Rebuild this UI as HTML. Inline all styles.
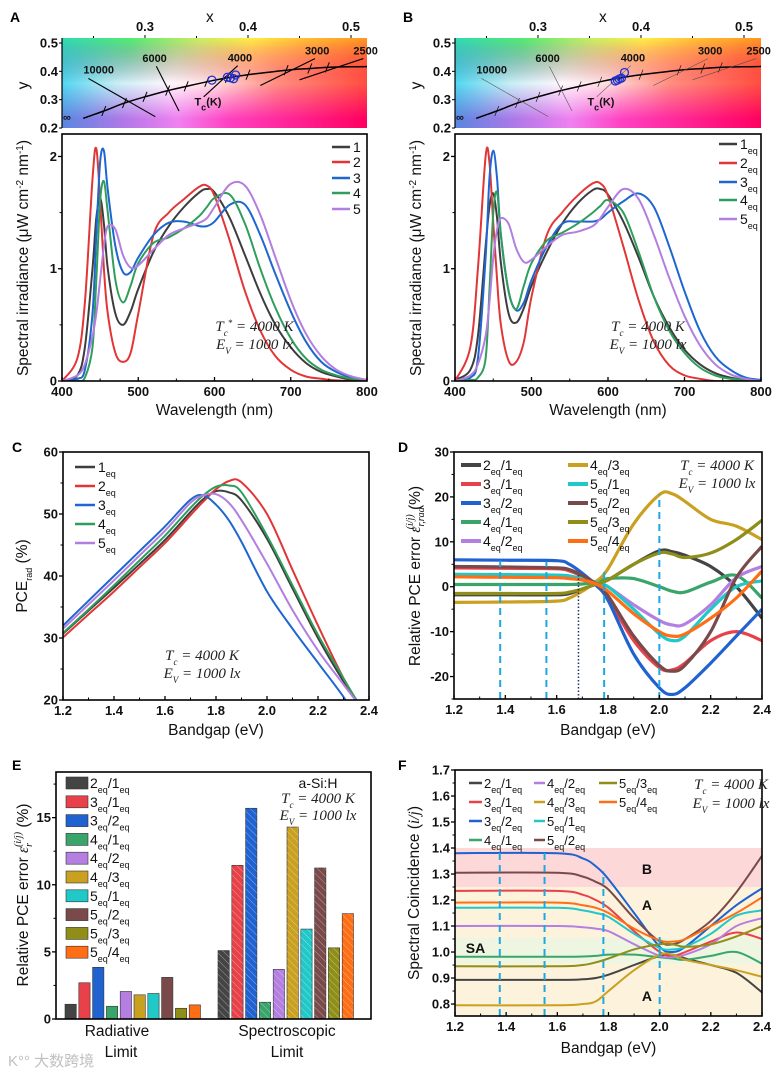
<!DOCTYPE html>
<html><head><meta charset="utf-8">
<style>
html,body{margin:0;padding:0;background:#fff;}
svg{display:block;font-family:"Liberation Sans",Arial,sans-serif;}
.tk{font-size:13px;font-weight:bold;fill:#111;}
.ttl{font-size:15.5px;fill:#111;}
.lg{font-size:14px;fill:#111;}
.ann{font-family:"Liberation Serif",serif;font-style:italic;font-size:15px;fill:#222;}
.pl{font-size:14px;font-weight:bold;fill:#000;}
.ch{font-size:11px;font-weight:bold;fill:#111;}
</style></head>
<body>
<svg id="fig" width="782" height="1072" viewBox="0 0 782 1072" xmlns="http://www.w3.org/2000/svg">
<defs>
<linearGradient id="gTop" x1="0" x2="1" y1="0" y2="0">
<stop offset="0" stop-color="#30dcb0"/><stop offset="0.22" stop-color="#50ec70"/><stop offset="0.45" stop-color="#c8f060"/><stop offset="0.62" stop-color="#fff040"/><stop offset="0.8" stop-color="#ffc030"/><stop offset="1" stop-color="#ff9820"/></linearGradient>
<linearGradient id="gMid" x1="0" x2="1" y1="0" y2="0">
<stop offset="0" stop-color="#50d8f0"/><stop offset="0.18" stop-color="#c8f0f4"/><stop offset="0.35" stop-color="#fff8fc"/><stop offset="0.5" stop-color="#ffe0e0"/><stop offset="0.7" stop-color="#ff9080"/><stop offset="1" stop-color="#ff5040"/></linearGradient>
<linearGradient id="gBot" x1="0" x2="1" y1="0" y2="0">
<stop offset="0" stop-color="#5a86e0"/><stop offset="0.2" stop-color="#b078e8"/><stop offset="0.38" stop-color="#f080f0"/><stop offset="0.55" stop-color="#ff40c0"/><stop offset="0.78" stop-color="#ff2090"/><stop offset="1" stop-color="#ff0060"/></linearGradient>
<linearGradient id="mT" x1="0" x2="0" y1="0" y2="1"><stop offset="0" stop-color="#fff"/><stop offset="0.5" stop-color="#000"/></linearGradient>
<linearGradient id="mM" x1="0" x2="0" y1="0" y2="1"><stop offset="0.1" stop-color="#000"/><stop offset="0.5" stop-color="#fff"/><stop offset="0.9" stop-color="#000"/></linearGradient>
<mask id="maskT" maskContentUnits="objectBoundingBox"><rect width="1" height="1" fill="url(#mT)"/></mask>
<mask id="maskM" maskContentUnits="objectBoundingBox"><rect width="1" height="1" fill="url(#mM)"/></mask>
<pattern id="hatch" patternUnits="userSpaceOnUse" width="5" height="5" patternTransform="rotate(-45)"><line x1="0" y1="0" x2="0" y2="5" stroke="#fff" stroke-opacity="0.45" stroke-width="1"/></pattern>
</defs>
</svg>
<script>
// ---------- DATA ----------
const wl = [400,420,430,440,445,450,455,460,470,480,490,500,520,540,560,580,590,600,620,640,660,680,700,720,740,760,780,800];
const specA1 = [0,0.05,0.3,1.0,1.45,1.63,1.4,1.0,0.6,0.5,0.62,0.82,1.15,1.38,1.55,1.68,1.71,1.68,1.45,1.12,0.78,0.5,0.3,0.16,0.08,0.04,0.01,0];
const specA2 = [0,0.2,0.7,1.8,2.07,1.6,1.0,0.6,0.25,0.17,0.25,0.6,1.3,1.5,1.62,1.73,1.74,1.65,1.25,0.8,0.45,0.22,0.1,0.04,0.02,0.005,0,0];
const specA3 = [0,0.02,0.1,0.6,1.3,1.95,2.05,1.7,1.2,0.97,0.97,1.1,1.3,1.41,1.42,1.38,1.38,1.42,1.57,1.57,1.3,0.95,0.62,0.35,0.17,0.08,0.03,0.01];
const specA4 = [0,0,0.03,0.3,0.9,1.6,1.78,1.5,0.9,0.7,0.85,1.05,1.23,1.28,1.36,1.47,1.55,1.63,1.66,1.4,1.0,0.65,0.38,0.2,0.1,0.05,0.02,0];
const specA5 = [0,0.05,0.15,0.4,0.6,0.9,1.2,1.38,1.35,1.12,1.01,1.03,1.17,1.3,1.36,1.41,1.45,1.55,1.75,1.74,1.48,1.1,0.72,0.42,0.22,0.1,0.04,0.01];
const specB1 = [0.01,0.1,0.4,1.2,1.55,1.67,1.45,1.05,0.6,0.52,0.65,0.85,1.15,1.4,1.58,1.7,1.71,1.66,1.42,1.1,0.75,0.48,0.28,0.15,0.07,0.03,0.01,0];
const specB2 = [0,0.3,1.0,2.0,1.95,1.4,0.9,0.5,0.18,0.17,0.35,0.75,1.3,1.5,1.65,1.76,1.76,1.65,1.2,0.72,0.35,0.14,0.05,0.02,0,0,0,0];
const specB3 = [0,0.03,0.2,1.1,1.8,2.05,1.8,1.3,0.8,0.63,0.7,0.9,1.2,1.4,1.42,1.42,1.44,1.5,1.6,1.67,1.55,1.2,0.8,0.45,0.22,0.1,0.03,0.01];
const specB4 = [0,0.01,0.03,0.2,0.8,1.5,1.68,1.3,0.8,0.64,0.85,1.05,1.25,1.32,1.4,1.5,1.56,1.61,1.5,1.15,0.75,0.45,0.25,0.12,0.05,0.02,0.01,0];
const specB5 = [0,0.05,0.15,0.4,0.7,1.1,1.35,1.45,1.4,1.18,1.06,1.08,1.2,1.3,1.33,1.38,1.45,1.55,1.71,1.62,1.3,0.92,0.58,0.32,0.15,0.06,0.02,0];
const specLabelsA = ["1","2","3","4","5"];
const wlTicks = [400,500,600,700,800];
const irrTicks = [0,1,2];

const locusX = [0.24,0.26,0.28,0.30,0.322,0.34,0.36,0.38,0.40,0.437,0.46,0.477,0.50,0.52];
const locusY = [0.234,0.26,0.288,0.31,0.332,0.347,0.363,0.377,0.388,0.404,0.41,0.414,0.416,0.417];
const cctLabels = ["10000","6000","4000","3000","2500"];
const cctLineX1 = [0.245,0.311,0.39,0.465,0.512];
const cctLineY1 = [0.375,0.418,0.42,0.445,0.445];
const cctLineX2 = [0.31,0.333,0.357,0.412,0.45];
const cctLineY2 = [0.24,0.26,0.31,0.35,0.37];
const ptsAx = [0.365,0.38,0.383,0.386,0.388];
const ptsAy = [0.369,0.379,0.377,0.374,0.387];
const ptsBx = [0.375,0.377,0.379,0.381,0.384];
const ptsBy = [0.366,0.369,0.373,0.376,0.396];

const bg = [1.2,1.3,1.4,1.5,1.6,1.7,1.75,1.8,1.85,1.9,2.0,2.1,2.2,2.3,2.35,2.4];
const pce1 = [30.7,34.4,38.1,41.9,45.8,50.3,52.4,53.7,53.5,52.2,46,38,30,23,20,17];
const pce2 = [30.1,33.8,37.5,41.4,45.3,49.8,52,54,55.3,55.1,50,41,32,23.5,20,16.5];
const pce3 = [32,36,40,44,48,52.3,53,51.5,49,45.5,37.5,31.5,26,20.5,17,14];
const pce4 = [30.8,34.6,38.5,42.5,46.5,51,53,54.4,54.6,53.5,46.5,38.5,30.5,23.5,20,16.5];
const pce5 = [31.5,35.4,39.3,43.3,47.3,51.8,53,53.2,51.8,49,42,34.5,28,22.5,19.8,17];
const eqLabels = ["1","2","3","4","5"];
const bgTicks = [1.2,1.4,1.6,1.8,2.0,2.2,2.4];
const pceTicks = [20,30,40,50,60];

const bgD = [1.2,1.4,1.6,1.65,1.7,1.75,1.8,1.9,2.0,2.05,2.1,2.2,2.3,2.4];
const err21 = [-1.8,-1.8,-1.8,-1.5,-0.5,0.5,1.5,5,8,7.8,7,4.5,0,-7];
const err31 = [4.2,4.1,4,3.5,2.3,0.5,-2.5,-12,-18,-18.5,-17,-12,-10,-12];
const err32 = [6,5.9,5.8,5,3,0.5,-3,-15,-22.5,-24,-22.5,-17,-11,-5];
const err41 = [0.5,0.5,0.5,0.5,0.6,1,1.8,1.8,0,-1,-1.2,1,2.5,-2.5];
const err42 = [2.5,2.4,2.3,2.2,1.8,1,0,-4,-7.5,-8.5,-8.3,-4,2,4.5];
const err43 = [-3.5,-3.4,-3.2,-2.5,-1,1,4,14,20.5,20.7,19,15,13.5,10.5];
const err51 = [2.8,2.7,2.6,2.4,1.8,1,0,-5,-10.5,-12,-11,-5,0,1.3];
const err52 = [4.5,4.4,4.2,3.8,2.5,0.8,-2,-11,-17.5,-18.8,-17.5,-10,2,9];
const err53 = [-1.5,-1.5,-1.5,-1.2,-0.5,0.5,1.5,5,7.5,7.3,6.5,7.5,10.5,14.8];
const err54 = [2.2,2.1,2,1.8,1.5,0.7,-1,-6,-10,-11,-10.5,-7,-2.5,3.5];
const ratioLabels = ["2/1","3/1","3/2","4/1","4/2","4/3","5/1","5/2","5/3","5/4"];
const errTicks = [-20,-10,0,10,20,30];
const dashX = [1.38,1.56,1.785,2.0];
const dashTopD = [5.8,5.6,3.3,20.6];

const radVals = [1.1,2.7,3.85,0.95,2.05,1.8,1.9,3.1,0.8,1.05];
const specVals = [5.1,11.45,15.7,1.25,3.7,14.3,6.7,11.25,5.3,7.85];
const groupLabels = ["Radiative","Spectroscopic"];
const eTicks = [0,5,10,15];

const bgF = [1.2,1.6,1.7,1.75,1.8,1.9,2.0,2.05,2.1,2.2,2.3,2.4];
const sc21 = [0.893,0.893,0.895,0.9,0.913,0.95,0.985,0.99,0.975,0.95,0.92,0.845];
const sc31 = [1.235,1.235,1.22,1.2,1.17,1.08,1.0,0.985,1.0,1.04,1.075,1.05];
const sc32 = [1.38,1.38,1.36,1.33,1.28,1.15,1.02,1.0,1.02,1.1,1.18,1.245];
const sc41 = [0.982,0.982,0.983,0.985,0.99,0.99,0.98,0.975,0.97,0.985,1.0,0.955];
const sc42 = [1.10,1.10,1.095,1.09,1.08,1.03,0.985,0.98,0.99,1.03,1.1,1.13];
const sc43 = [0.795,0.795,0.8,0.81,0.85,0.93,0.99,0.99,0.97,0.95,0.93,0.905];
const sc51 = [1.17,1.17,1.16,1.15,1.135,1.07,1.015,1.01,1.02,1.07,1.14,1.16];
const sc52 = [1.305,1.305,1.29,1.27,1.24,1.13,1.04,1.03,1.05,1.12,1.23,1.37];
const sc53 = [0.945,0.945,0.95,0.96,0.975,1.01,1.03,1.03,1.02,1.03,1.06,1.10];
const sc54 = [1.19,1.19,1.18,1.17,1.15,1.09,1.045,1.04,1.05,1.1,1.15,1.21];
const scTicks = [0.8,0.9,1.0,1.1,1.2,1.3,1.4,1.5,1.6,1.7];
const dashTopF = [1.4,1.4,1.31,1.06];

// ---------- HELPERS ----------
const NS="http://www.w3.org/2000/svg";
const fig=document.getElementById('fig');
function mk(tag,attrs,parent){const e=document.createElementNS(NS,tag);for(const k in attrs)e.setAttribute(k,attrs[k]);(parent||fig).appendChild(e);return e;}
function lin(d0,d1,r0,r1){return v=>r0+(v-d0)*(r1-r0)/(d1-d0);}
function smooth(pts){let d=`M${pts[0][0].toFixed(1)},${pts[0][1].toFixed(1)}`;for(let i=0;i<pts.length-1;i++){const p0=pts[i-1]||pts[i],p1=pts[i],p2=pts[i+1],p3=pts[i+2]||p2;const c1x=p1[0]+(p2[0]-p0[0])/6,c1y=p1[1]+(p2[1]-p0[1])/6,c2x=p2[0]-(p3[0]-p1[0])/6,c2y=p2[1]-(p3[1]-p1[1])/6;d+=`C${c1x.toFixed(1)},${c1y.toFixed(1)} ${c2x.toFixed(1)},${c2y.toFixed(1)} ${p2[0].toFixed(1)},${p2[1].toFixed(1)}`;}return d;}
function txt(x,y,s,cls,parent,anchor){const t=mk('text',{x:x,y:y,class:cls,'text-anchor':anchor||'start'},parent);t.innerHTML=s;return t;}
const sub=(s)=>`<tspan baseline-shift="sub" font-size="9">${s}</tspan>`;
const eqR=(r)=>{const [a,b]=r.split('/');return a+sub('eq')+'/'+b+sub('eq');};
let clipN=0;
function frame(g,x0,y0,x1,y1){const r=mk('rect',{x:x0,y:y0,width:x1-x0,height:y1-y0,fill:'none',stroke:'#000','stroke-width':1.6},g);}
function clip(x0,y0,x1,y1){clipN++;const c=mk('clipPath',{id:'cl'+clipN},fig);mk('rect',{x:x0,y:y0,width:x1-x0,height:y1-y0},c);return 'url(#cl'+clipN+')';}
function xAxis(g,ticks,sx,yb,fmt,minor){ticks.forEach(t=>{const x=sx(t);mk('line',{x1:x,x2:x,y1:yb,y2:yb-4,stroke:'#000','stroke-width':1.3},g);const l=txt(x,yb+15,fmt(t),'tk',g,'middle');});(minor||[]).forEach(t=>{const x=sx(t);mk('line',{x1:x,x2:x,y1:yb,y2:yb-2.5,stroke:'#000','stroke-width':1},g);});}
function yAxis(g,ticks,sy,xl,fmt,minor){ticks.forEach(t=>{const y=sy(t);mk('line',{x1:xl-4,x2:xl,y1:y,y2:y,stroke:'#000','stroke-width':1.3},g);const l=txt(xl-5,y+4.5,fmt(t),'tk',g,'end');});(minor||[]).forEach(t=>{const y=sy(t);mk('line',{x1:xl-2.5,x2:xl,y1:y,y2:y,stroke:'#000','stroke-width':1},g);});}
function mid(a){const r=[];for(let i=0;i<a.length-1;i++)r.push((a[i]+a[i+1])/2);return r;}

const specCols=['#3d3d3d','#e23636','#1e66d0','#2f9e5c','#b27ee0'];
const ratioCols=['#444444','#e8414a','#1f62d0','#3aa56a','#b47fe0','#c9a020','#20c8c8','#7a4a4a','#8e8e18','#ff6e14'];

// ---------- CHROMATICITY ----------
function chroma(px0,px1,pts,thin,letter){
  const g=mk('g',{});  
  const sx=lin(0.3,0.4,px0+83,px0+186), sy=lin(0.2,0.5,128,43);
  const y0=38,y1=128;
  mk('rect',{x:px0,y:y0,width:px1-px0,height:y1-y0,fill:'url(#gBot)'},g);
  mk('rect',{x:px0,y:y0,width:px1-px0,height:y1-y0,fill:'url(#gMid)',mask:'url(#maskM)'},g);
  mk('rect',{x:px0,y:y0,width:px1-px0,height:y1-y0,fill:'url(#gTop)',mask:'url(#maskT)'},g);
  const cp=clip(px0,y0,px1,y1);
  const gi=mk('g',{'clip-path':cp},g);
  const lp=mk('path',{d:smooth(locusX.map((v,i)=>[sx(v),sy(locusY[i])])),fill:'none',stroke:'#000','stroke-width':1.5},gi);
   
  for(let i=1;i<locusX.length-2;i++){const x=sx(locusX[i]),y=sy(locusY[i]);mk('line',{x1:x-2,y1:y+5,x2:x+2,y2:y-5,stroke:'#000','stroke-width':thin?0.6:1},gi);}
  cctLabels.forEach((l,i)=>{const ln=mk('line',{x1:sx(cctLineX1[i]),y1:sy(cctLineY1[i]),x2:sx(cctLineX2[i]),y2:sy(cctLineY2[i]),stroke:thin?'#555':'#000','stroke-width':thin?0.6:1.1},gi);
    const t=txt(sx(cctLineX1[i])+(i==0?-5:(i==1?-14:-10)),sy(cctLineY1[i])-4+(i==0?-1:0),l,'ch',g);});
  txt(px0+1,sy(0.235)+3,'∞','ch',g);
  const tl=txt(sx(0.348),sy(0.28),'T'+sub('c')+'(K)','ch',g);  
  pts[0].forEach((v,i)=>{const c=mk('circle',{cx:sx(v),cy:sy(pts[1][i]),r:4,fill:'none',stroke:'#2030d0','stroke-width':1.3},gi);});
  mk('line',{x1:px0,x2:px0,y1:y0,y2:y1,stroke:'#000','stroke-width':1.2},g);
  [0.3,0.4,0.5].forEach(t=>{const l=txt(sx(t),31,t.toFixed(1),'tk',g,'middle');mk('line',{x1:sx(t),x2:sx(t),y1:35,y2:38,stroke:'#000'},g);});
  [0.25,0.35,0.45].forEach(t=>mk('line',{x1:sx(t),x2:sx(t),y1:36,y2:38,stroke:'#000'},g));
  txt(sx(0.363),22,'x','ttl',g,'middle');
  [0.2,0.3,0.4,0.5].forEach(t=>{const l=txt(px0-4,sy(t)+4.5,t.toFixed(1),'tk',g,'end');mk('line',{x1:px0-3,x2:px0,y1:sy(t),y2:sy(t),stroke:'#000'},g);});
  const yt=txt(0,0,'y','ttl',g,'middle'); yt.setAttribute('transform',`translate(${px0-34},${sy(0.35)}) rotate(-90)`);
  const pl=txt(px0-52,22,letter,'pl',g);  
}
chroma(62,367,[ptsAx,ptsAy],false,'A');
chroma(455,761,[ptsBx,ptsBy],true,'B');

// ---------- SPECTRA ----------
function spectra(px0,px1,series,labels,isEq,legX,legY,ann){
  const g=mk('g',{});  
  const sx=lin(400,800,px0,px1), sy=lin(0,2.2,381,134);
  const gi=mk('g',{'clip-path':clip(px0,134,px1,381)},g);
  series.forEach((s,k)=>{const p=mk('path',{d:smooth(wl.map((w,i)=>[sx(w),sy(s[i])])),fill:'none',stroke:specCols[k],'stroke-width':2},gi);});
  frame(g,px0,134,px1,381);
  xAxis(g,wlTicks,sx,381,v=>v,mid(wlTicks));
  yAxis(g,irrTicks,sy,px0,v=>v,[0.5,1.5]);
  const xt=txt((px0+px1)/2,415,'Wavelength (nm)','ttl',g,'middle');  
  const yt=txt(0,0,'Spectral irradiance (μW cm<tspan baseline-shift="super" font-size="10">-2</tspan> nm<tspan baseline-shift="super" font-size="10">-1</tspan>)','ttl',g,'middle');
  yt.setAttribute('transform',`translate(${px0-34},258) rotate(-90)`);  
  labels.forEach((l,k)=>{const y=legY[k];const ln=mk('line',{x1:legX,x2:legX+18,y1:y,y2:y,stroke:specCols[k],'stroke-width':2.5},g);const t=txt(legX+21,y+5,isEq?l+sub('eq'):l,'lg',g);});
  txt((px0+px1)/2+40,331,ann,'ann',g,'middle');
  txt((px0+px1)/2+40,349,'E'+sub('V')+' = 1000 lx','ann',g,'middle');
}
spectra(62,367,[specA1,specA2,specA3,specA4,specA5],specLabelsA,false,332,[147,162,178,193,209],'T'+'<tspan baseline-shift="sub" font-size="9">c</tspan><tspan baseline-shift="super" font-size="9">*</tspan> = 4000 K');
spectra(455,761,[specB1,specB2,specB3,specB4,specB5],eqLabels,true,719,[144,163,182,200,219],'T'+sub('c')+' = 4000 K');

// ---------- C: PCE ----------
(function(){
  const px0=63,px1=369,t=452,b=700;
  const g=mk('g',{});  
  const sx=lin(1.2,2.4,px0,px1), sy=lin(20,60,b,t);
  const gi=mk('g',{'clip-path':clip(px0,t,px1,b)},g);
  [pce1,pce2,pce3,pce4,pce5].forEach((s,k)=>{const p=mk('path',{d:smooth(bg.map((v,i)=>[sx(v),sy(s[i])])),fill:'none',stroke:specCols[k],'stroke-width':2},gi);});
  frame(g,px0,t,px1,b);
  xAxis(g,bgTicks,sx,b,v=>v.toFixed(1),mid(bgTicks));
  yAxis(g,pceTicks,sy,px0,v=>v,mid(pceTicks));
  txt((px0+px1)/2,735,'Bandgap (eV)','ttl',g,'middle');
  const yt=txt(0,0,'PCE'+sub('rad')+'  (%)','ttl',g,'middle'); yt.setAttribute('transform',`translate(${px0-36},576) rotate(-90)`); 
  eqLabels.forEach((l,k)=>{const y=[467,486,505,524,543][k];mk('line',{x1:75,x2:95,y1:y,y2:y,stroke:specCols[k],'stroke-width':2.5},g);const tt=txt(98,y+5,l+sub('eq'),'lg',g);});
  txt(202,660,'T'+sub('c')+' = 4000 K','ann',g,'middle'); txt(202,678,'E'+sub('V')+' = 1000 lx','ann',g,'middle');
  const pl=txt(12,452,'C','pl',g); 
})();

// ---------- D: relative error ----------
(function(){
  const px0=454,px1=762,t=452,b=699;
  const g=mk('g',{});  
  const sx=lin(1.2,2.4,px0,px1), sy=lin(-25,30,b,t);
  const gi=mk('g',{'clip-path':clip(px0,t,px1,b)},g);
  [err21,err31,err32,err41,err42,err43,err51,err52,err53,err54].forEach((s,k)=>{const p=mk('path',{d:smooth(bgD.map((v,i)=>[sx(v),sy(s[i])])),fill:'none',stroke:ratioCols[k],'stroke-width':3.2},gi);});
  dashX.forEach((x,i)=>{const l=mk('line',{x1:sx(x),x2:sx(x),y1:b,y2:sy(dashTopD[i]),stroke:'#1fa8e0','stroke-width':2,'stroke-dasharray':'7,5'},g);});
  mk('line',{x1:sx(1.685),x2:sx(1.685),y1:b,y2:sy(3),stroke:'#223366','stroke-width':1.5,'stroke-dasharray':'1.5,2'},g);
  frame(g,px0,t,px1,b);
  xAxis(g,bgTicks,sx,b,v=>v.toFixed(1),mid(bgTicks));
  yAxis(g,errTicks,sy,px0,v=>v,[-25,-15,-5,5,15,25]);
  txt((px0+px1)/2,735,'Bandgap (eV)','ttl',g,'middle');
  const yt=txt(0,0,'Relative PCE error <tspan font-family="Liberation Serif" font-style="italic">ε</tspan><tspan font-family="Liberation Serif" font-style="italic" font-size="10" dy="4">r,rad</tspan><tspan font-family="Liberation Serif" font-style="italic" font-size="10" dx="-22" dy="-11">(i/j)</tspan><tspan dy="7"> (%)</tspan>','ttl',g,'middle');
  yt.setAttribute('transform',`translate(${px0-34},576) rotate(-90)`); 
  ratioLabels.forEach((l,k)=>{const col=k<5?0:1,row=k%5;const x=col?568:461,y=465+row*19;mk('line',{x1:x,x2:x+20,y1:y,y2:y,stroke:ratioCols[k],'stroke-width':4},g);const tt=txt(x+22,y+5,eqR(l),'lg',g);});
  txt(717,470,'T'+sub('c')+' = 4000 K','ann',g,'middle'); txt(717,488,'E'+sub('V')+' = 1000 lx','ann',g,'middle');
  const pl=txt(398,452,'D','pl',g); 
})();

// ---------- E: bars ----------
(function(){
  const px0=56,px1=371,t=772,b=1019;
  const g=mk('g',{});  
  const sy=lin(0,18.4,b,t);
  const starts=[65,218],pitch=13.8,bw=11.3;
  [radVals,specVals].forEach((vals,gi)=>{vals.forEach((v,k)=>{const x=starts[gi]+k*pitch;
    const r=mk('rect',{x:x,y:sy(v),width:bw,height:b-sy(v),fill:ratioCols[k],stroke:'#333','stroke-width':0.6},g);
    
    if(gi==1){mk('rect',{x:x,y:sy(v),width:bw,height:b-sy(v),fill:'url(#hatch)'},g);}
  });});
  frame(g,px0,t,px1,b);
  yAxis(g,eTicks,sy,px0,v=>v,[2.5,7.5,12.5,17.5]);
  [[117,'Radiative'],[287,'Spectroscopic']].forEach(([x,l])=>{const a=txt(x,1036,l,'ttl',g,'middle');txt(x+(l=='Radiative'?4:0),1057,'Limit','ttl',g,'middle');});
  const yt=txt(0,0,'Relative PCE error <tspan font-family="Liberation Serif" font-style="italic">ε</tspan><tspan font-family="Liberation Serif" font-style="italic" font-size="10" dy="4">r</tspan><tspan font-family="Liberation Serif" font-style="italic" font-size="10" dx="-4" dy="-11">(i/j)</tspan><tspan dy="7"> (%)</tspan>','ttl',g,'middle');
  yt.setAttribute('transform',`translate(${px0-28},895) rotate(-90)`); 
  ratioLabels.forEach((l,k)=>{const y=783+k*18.8;const s=mk('rect',{x:66,y:y-6,width:22,height:12,fill:ratioCols[k],stroke:'#333','stroke-width':0.6},g);const tt=txt(90,y+5,eqR(l),'lg',g);});
  txt(318,788,'a-Si:H','lg',g,'middle'); txt(318,803,'T'+sub('c')+' = 4000 K','ann',g,'middle'); txt(318,820,'E'+sub('V')+' = 1000 lx','ann',g,'middle');
  const pl=txt(12,770,'E','pl',g); 
  const w=txt(8,1066,'K°° 大数跨境','lg',g); w.setAttribute('style','fill:#c0c0c0;font-family:"Liberation Sans","Noto Sans CJK SC",sans-serif;font-size:15px');  
})();

// ---------- F: spectral coincidence ----------
(function(){
  const px0=455,px1=762,t=770,b=1016;
  const g=mk('g',{});  
  const sx=lin(1.2,2.4,px0,px1), sy=lin(0.754,1.7,b,t);
  mk('rect',{x:px0,y:sy(1.4),width:px1-px0,height:sy(1.25)-sy(1.4),fill:'#fcd8d8'},g);
  mk('rect',{x:px0,y:sy(1.25),width:px1-px0,height:b-sy(1.25),fill:'#fdf3dc'},g);
  mk('rect',{x:px0,y:sy(1.055),width:px1-px0,height:sy(0.955)-sy(1.055),fill:'#eef6e2'},g);
  const gi=mk('g',{'clip-path':clip(px0,t,px1,b)},g);
  [sc21,sc31,sc32,sc41,sc42,sc43,sc51,sc52,sc53,sc54].forEach((s,k)=>{const p=mk('path',{d:smooth(bgF.map((v,i)=>[sx(v),sy(s[i])])),fill:'none',stroke:ratioCols[k],'stroke-width':2},gi);});
  dashX.forEach((x,i)=>{const xx=[1.375,1.55,1.78,2.0][i];const l=mk('line',{x1:sx(xx),x2:sx(xx),y1:b,y2:sy(dashTopF[i]),stroke:'#1fa8e0','stroke-width':2,'stroke-dasharray':'7,5'},g);});
  [['B',1.95,1.32],['A',1.95,1.18],['SA',1.28,1.015],['A',1.95,0.83]].forEach(([s,x,y])=>{const a=txt(sx(x),sy(y)+5,s,'tk',g,'middle');a.setAttribute('style','font-size:14px');});
  frame(g,px0,t,px1,b);
  xAxis(g,bgTicks,sx,b,v=>v.toFixed(1),mid(bgTicks));
  yAxis(g,scTicks,sy,px0,v=>v.toFixed(1),[0.85,0.95,1.05,1.15,1.25,1.35,1.45,1.55,1.65]);
  txt((px0+px1)/2,1053,'Bandgap (eV)','ttl',g,'middle');
  const yt=txt(0,0,'Spectral Coincidence (<tspan font-family="Liberation Serif" font-style="italic">i/j</tspan>)','ttl',g,'middle'); yt.setAttribute('transform',`translate(${px0-36},893) rotate(-90)`); 
  const cols=[[469,484],[534,547],[599,619]];
  ratioLabels.forEach((l,k)=>{const c=Math.floor(k/4),r=k%4;const [lx,tx]=cols[c];const y=783+r*19;mk('line',{x1:lx,x2:tx-2,y1:y,y2:y,stroke:ratioCols[k],'stroke-width':2.5},g);const tt=txt(tx,y+5,eqR(l),'lg',g);tt.setAttribute('style','font-size:13px');});
  txt(731,789,'T'+sub('c')+' = 4000 K','ann',g,'middle'); txt(731,808,'E'+sub('V')+' = 1000 lx','ann',g,'middle');
  const pl=txt(398,770,'F','pl',g); 
})();
</script>
</body></html>
